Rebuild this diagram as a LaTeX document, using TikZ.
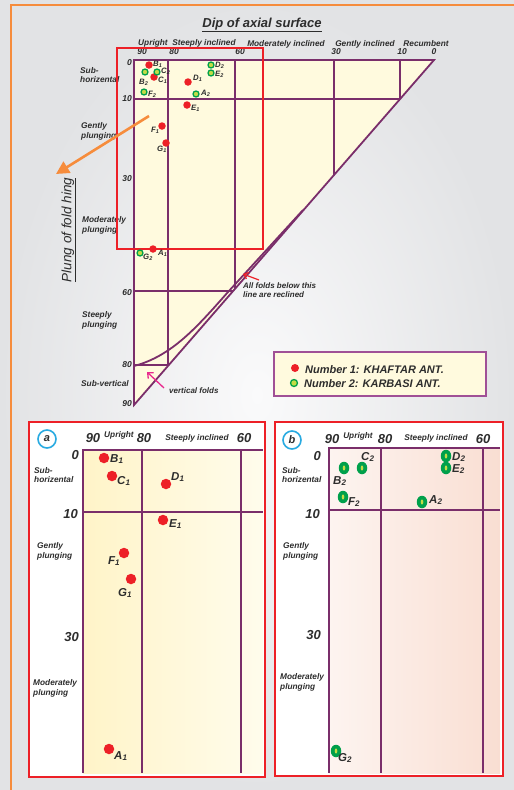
\documentclass[tikz,border=0pt]{standalone}
\usepackage{fontspec}
\setmainfont{Liberation Sans}
\usetikzlibrary{arrows.meta,shapes.geometric}
\definecolor{fpurple}{RGB}{122,46,106}
\definecolor{fred}{RGB}{237,32,39}
\definecolor{fgreen}{RGB}{0,160,75}
\definecolor{flime}{RGB}{195,220,70}
\definecolor{fcream}{RGB}{255,250,222}
\definecolor{ftext}{RGB}{45,45,45}
\definecolor{forange}{RGB}{246,140,60}
\definecolor{fmag}{RGB}{232,40,140}
\definecolor{fblue}{RGB}{40,170,225}
\definecolor{flegend}{RGB}{160,80,150}
\newcommand{\plab}[2]{#1\textsubscript{#2}}
\tikzset{
  gridline/.style={draw=fpurple, line width=1.8pt},
  panelline/.style={draw=fpurple, line width=2.4pt},
  txt/.style={font=\fontsize{8.3}{9.8}\selectfont\bfseries\itshape, text=ftext, inner sep=0pt, align=left},
  num/.style={font=\fontsize{8.5}{10}\selectfont\bfseries\itshape, text=ftext, inner sep=0pt},
  bignum/.style={font=\fontsize{13}{14}\selectfont\bfseries\itshape, text=ftext, inner sep=0pt},
  rdot/.style={circle, fill=fred, minimum size=7.5pt, inner sep=0pt},
  gdot/.style={circle, draw=fgreen, fill=flime, line width=1.3pt, minimum size=6pt, inner sep=0pt},
  rbig/.style={circle, fill=fred, minimum size=10.5pt, inner sep=0pt},
  gbig/.style={ellipse, fill=fgreen, minimum width=10.5pt, minimum height=12.5pt, inner sep=0pt},
  ptl/.style={font=\fontsize{7.8}{9}\selectfont\bfseries\itshape, text=ftext, inner sep=0pt, anchor=west},
  ptlb/.style={font=\fontsize{11.5}{13}\selectfont\bfseries\itshape, text=ftext, inner sep=0pt, anchor=west},
  panelframe/.style={draw=fred, line width=2pt, fill=white},
  tagcircle/.style={circle, draw=fblue, line width=1.6pt, fill=white, minimum size=18pt, inner sep=0pt, font=\fontsize{11}{12}\selectfont\bfseries\itshape, text=ftext},
  legtext/.style={font=\fontsize{11}{12}\selectfont\bfseries\itshape, text=ftext, inner sep=0pt, anchor=west}
}
\begin{document}
\begin{tikzpicture}[x=1pt,y=-1pt]
\useasboundingbox (0,0) rectangle (514,790);
\clip (0,0) rectangle (514,790);
% background
\shade[inner color={rgb,255:red,250;green,250;blue,251}, outer color={rgb,255:red,226;green,227;blue,229}] (0,0) rectangle (514,790);
\draw[forange, line width=2.5pt] (11,790) -- (11,5) -- (514,5);

% ===== top diagram =====
\fill[fcream] (134,60) -- (434,60) -- (134,405) -- cycle;
% grid
\draw[gridline] (134,405) -- (134,60) -- (434,60) -- cycle;
\draw[gridline] (134,99) -- (400,99);
\draw[gridline] (134,291) -- (233,291);
\draw[gridline] (134,365) -- (168.8,365);
\draw[gridline] (168,60) -- (168,365);
\draw[gridline] (235,60) -- (235,289);
\draw[gridline] (334,60) -- (334,175);
\draw[gridline] (400,60) -- (400,99);
\draw[gridline] (303,210) -- (228,292) .. controls (197,327) and (172,356) .. (134,366);

% title and headers
\node[font=\fontsize{13}{15}\selectfont\bfseries\itshape, text=ftext, inner sep=0pt] (title) at (262,25) {\underline{Dip of axial surface}};
\node[txt] (hUp) at (153,43) {Upright};
\node[txt] (hSt) at (204,43) {Steeply inclined};
\node[txt] (hMo) at (286,44) {Moderately inclined};
\node[txt] (hGe) at (365,44) {Gently inclined};
\node[txt] (hRe) at (426,44) {Recumbent};
\node[num] (c90) at (142,52) {90};
\node[num] (c80) at (174,52) {80};
\node[num] (c60) at (240,52) {60};
\node[num] (c30) at (336,52) {30};
\node[num] (c10) at (402,52) {10};
\node[num] (c0) at (434,52) {0};
\node[num, anchor=east] (r0) at (132,63) {0};
\node[num, anchor=east] (r10) at (132,99) {10};
\node[num, anchor=east] (r30) at (132,179) {30};
\node[num, anchor=east] (r60) at (132,293) {60};
\node[num, anchor=east] (r80) at (132,365) {80};
\node[num, anchor=east] (r90) at (132,404) {90};
\node[txt, anchor=west] (lSub) at (80,75) {Sub-\\horizental};
\node[txt, anchor=west] (lGen) at (81,131) {Gently\\plunging};
\node[txt, anchor=west] (lMod) at (82,225) {Moderately\\plunging};
\node[txt, anchor=west] (lSte) at (82,320) {Steeply\\plunging};
\node[txt, anchor=west] (lVer) at (81,384) {Sub-vertical};
\node[font=\fontsize{13.5}{15}\selectfont\itshape, text=ftext, inner sep=0pt, rotate=90] (axis) at (69,230) {\underline{Plung of fold hing}};

% red highlight
\draw[fred, line width=2pt] (117,48) rectangle (263,249);
% orange arrow
\coordinate (oStart) at (149,116);
\coordinate (oEnd) at (56,174);
\draw[forange, line width=2.6pt, -{Triangle[length=13pt,width=13pt]}] (oStart) -- (oEnd);

% annotations
\node[txt, anchor=west, font=\fontsize{8}{9.6}\selectfont\bfseries\itshape] (recl) at (243,290) {All folds below this\\line are reclined};
\coordinate (rA) at (259,280);
\coordinate (rB) at (243,274);
\draw[fred, line width=1.2pt, -{Straight Barb[length=4pt,width=7pt]}] (rA) -- (rB);
\node[txt, anchor=west, font=\fontsize{8}{9.6}\selectfont\bfseries\itshape] (vert) at (169,391) {vertical folds};
\coordinate (mA) at (164,388);
\coordinate (mB) at (147,372);
\draw[fmag, line width=1.3pt, -{Straight Barb[length=4.5pt,width=8pt]}] (mA) -- (mB);

% legend
\draw[flegend, line width=1.8pt, fill=fcream] (274,352) rectangle (486,396);
\node[rdot, minimum size=8pt] (legR) at (295,368) {};
\node[legtext] (legRt) at (305,370) {Number 1: KHAFTAR ANT.};
\node[gdot, minimum size=7pt] (legG) at (294,383) {};
\node[legtext] (legGt) at (304,384) {Number 2: KARBASI ANT.};

% points top diagram
\node[rdot] (tB1) at (149,65) {};
\node[ptl] (tB1l) at (153,64) {\plab{B}{1}};
\node[gdot] (tB2) at (145,72) {};
\node[ptl] (tB2l) at (139,82) {\plab{B}{2}};
\node[rdot] (tC1) at (154,77) {};
\node[ptl] (tC1l) at (158,80) {\plab{C}{1}};
\node[gdot] (tC2) at (157,72) {};
\node[ptl] (tC2l) at (161,71) {\plab{C}{2}};
\node[gdot] (tF2) at (144,92) {};
\node[ptl] (tF2l) at (148,94) {\plab{F}{2}};
\node[rdot] (tD1) at (188,82) {};
\node[ptl] (tD1l) at (193,78) {\plab{D}{1}};
\node[gdot] (tD2) at (211,65) {};
\node[ptl] (tD2l) at (215,65) {\plab{D}{2}};
\node[gdot] (tE2) at (211,73) {};
\node[ptl] (tE2l) at (215,74) {\plab{E}{2}};
\node[gdot] (tA2) at (196,94) {};
\node[ptl] (tA2l) at (201,93) {\plab{A}{2}};
\node[rdot] (tE1) at (187,105) {};
\node[ptl] (tE1l) at (191,108) {\plab{E}{1}};
\node[rdot] (tF1) at (162,126) {};
\node[ptl] (tF1l) at (151,130) {\plab{F}{1}};
\node[rdot] (tG1) at (166,143) {};
\node[ptl] (tG1l) at (157,149) {\plab{G}{1}};
\node[rdot] (tA1) at (153,249) {};
\node[ptl] (tA1l) at (158,253) {\plab{A}{1}};
\node[gdot] (tG2) at (140,253) {};
\node[ptl] (tG2l) at (143,257) {\plab{G}{2}};

% ===== panel a =====
\draw[panelframe] (29,422) rectangle (265,777);
\shade[left color={rgb,255:red,255;green,244;blue,200}, right color={rgb,255:red,255;green,252;blue,236}] (83,450) rectangle (263,773);
\draw[panelline] (83,773) -- (83,450) -- (263,450);
\draw[panelline] (83,512) -- (263,512);
\draw[panelline] (142,450) -- (142,773);
\draw[panelline] (241,450) -- (241,773);
\node[tagcircle] (tagA) at (47,439) {a};
\node[bignum] (a90) at (93,438) {90};
\node[txt, font=\fontsize{8.3}{10}\selectfont\bfseries\itshape] (aUp) at (119,435) {Upright};
\node[bignum] (a80) at (144,438) {80};
\node[txt] (aSt) at (197,438) {Steeply inclined};
\node[bignum] (a60) at (244,438) {60};
\node[bignum, anchor=east] (a0) at (79,455) {0};
\node[bignum, anchor=east] (a10) at (78,514) {10};
\node[bignum, anchor=east] (a30) at (79,637) {30};
\node[txt, anchor=west] (aSub) at (34,475) {Sub-\\horizental};
\node[txt, anchor=west] (aGen) at (37,551) {Gently\\plunging};
\node[txt, anchor=west] (aMod) at (33,688) {Moderately\\plunging};
\node[rbig] (aB1) at (104,458) {};
\node[ptlb] (aB1l) at (110,459) {\plab{B}{1}};
\node[rbig] (aC1) at (112,476) {};
\node[ptlb] (aC1l) at (117,481) {\plab{C}{1}};
\node[rbig] (aD1) at (166,484) {};
\node[ptlb] (aD1l) at (171,477) {\plab{D}{1}};
\node[rbig] (aE1) at (163,520) {};
\node[ptlb] (aE1l) at (169,524) {\plab{E}{1}};
\node[rbig] (aF1) at (124,553) {};
\node[ptlb] (aF1l) at (108,561) {\plab{F}{1}};
\node[rbig] (aG1) at (131,579) {};
\node[ptlb] (aG1l) at (118,593) {\plab{G}{1}};
\node[rbig] (aA1) at (109,749) {};
\node[ptlb] (aA1l) at (114,756) {\plab{A}{1}};

% ===== panel b =====
\draw[panelframe] (275,422) rectangle (503,776);
\shade[left color={rgb,255:red,253;green,244;blue,240}, right color={rgb,255:red,249;green,222;blue,210}] (329,448) rectangle (500,773);
\draw[panelline] (329,773) -- (329,448) -- (500,448);
\draw[panelline] (329,510) -- (500,510);
\draw[fpurple, line width=1.2pt] (381,448) -- (381,773);
\draw[panelline] (483,448) -- (483,773);
\node[tagcircle] (tagB) at (292,440) {b};
\node[bignum] (b90) at (332,439) {90};
\node[txt, font=\fontsize{8.3}{10}\selectfont\bfseries\itshape] (bUp) at (358,436) {Upright};
\node[bignum] (b80) at (385,439) {80};
\node[txt] (bSt) at (436,438) {Steeply inclined};
\node[bignum] (b60) at (483,439) {60};
\node[bignum, anchor=east] (b0) at (321,456) {0};
\node[bignum, anchor=east] (b10) at (320,514) {10};
\node[bignum, anchor=east] (b30) at (321,635) {30};
\node[txt, anchor=west] (bSub) at (282,475) {Sub-\\horizental};
\node[txt, anchor=west] (bGen) at (283,551) {Gently\\plunging};
\node[txt, anchor=west] (bMod) at (280,682) {Moderately\\plunging};
\node[gbig] (bB2) at (344,468) {};
\fill[flime] (bB2) ellipse (1.3 and 2.6);
\node[ptlb] (bB2l) at (333,481) {\plab{B}{2}};
\node[gbig] (bC2) at (362,468) {};
\fill[flime] (bC2) ellipse (1.3 and 2.6);
\node[ptlb] (bC2l) at (361,457) {\plab{C}{2}};
\node[gbig] (bD2) at (446,456) {};
\fill[flime] (bD2) ellipse (1.3 and 2.6);
\node[ptlb] (bD2l) at (452,457) {\plab{D}{2}};
\node[gbig] (bE2) at (446,468) {};
\fill[flime] (bE2) ellipse (1.3 and 2.6);
\node[ptlb] (bE2l) at (452,469) {\plab{E}{2}};
\node[gbig] (bF2) at (343,497) {};
\fill[flime] (bF2) ellipse (1.3 and 2.6);
\node[ptlb] (bF2l) at (348,502) {\plab{F}{2}};
\node[gbig] (bA2) at (422,502) {};
\fill[flime] (bA2) ellipse (1.3 and 2.6);
\node[ptlb] (bA2l) at (429,500) {\plab{A}{2}};
\node[gbig] (bG2) at (336,751) {};
\fill[flime] (bG2) ellipse (1.3 and 2.6);
\node[ptlb] (bG2l) at (338,758) {\plab{G}{2}};
\end{tikzpicture}
\end{document}
